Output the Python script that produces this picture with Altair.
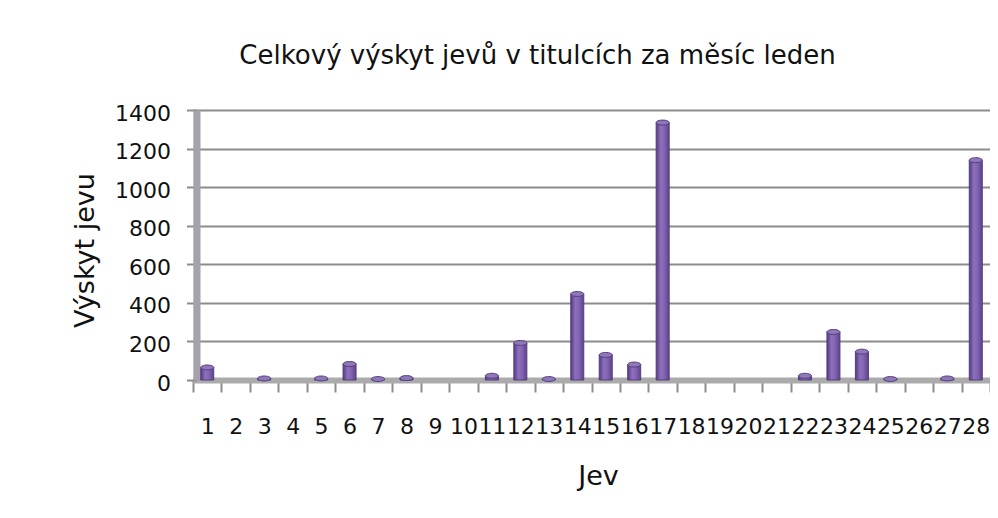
import altair as alt
import pandas as pd

categories = [str(i) for i in range(1, 29)]
values = [65, 0, 8, 0, 8, 83, 5, 10, 0, 0, 22, 192, 5, 446, 130, 80,
          1335, 0, 0, 0, 0, 22, 249, 147, 5, 0, 8, 1140]
y_ticks = [0, 200, 400, 600, 800, 1000, 1200, 1400]

title_text = "Celkový výskyt jevů v titulcích za měsíc leden"
x_title = "Jev"
y_title = "Výskyt jevu"

df = pd.DataFrame({"jev": categories, "vyskyt": values})

FONT = "DejaVu Sans"

x_scale = alt.Scale(domain=categories, paddingInner=0, paddingOuter=0)

x_enc = alt.X(
    "jev:N",
    sort=categories,
    scale=x_scale,
    axis=alt.Axis(
        title=x_title,
        labelAngle=0,
        labelFontSize=22,
        labelFont=FONT,
        labelColor="#111111",
        labelBaseline="middle",
        labelPadding=34,
        labelOverlap=False,
        tickBand="extent",
        tickSize=12,
        tickWidth=2,
        tickColor="#8C8C8C",
        domainWidth=6,
        domainColor="#ABABAB",
        titleFontSize=27,
        titleFont=FONT,
        titleFontWeight="normal",
        titleColor="#111111",
        titleX=405,
        titleY=96,
        titleBaseline="middle",
    ),
)

y_enc = alt.Y(
    "vyskyt:Q",
    scale=alt.Scale(domain=[0, 1400], nice=False),
    axis=alt.Axis(
        title=y_title,
        values=y_ticks,
        tickCount=8,
        format="d",
        labelOverlap=False,
        labelFontSize=22,
        labelFont=FONT,
        labelColor="#111111",
        labelOffset=3,
        labelPadding=16,
        tickSize=10,
        tickWidth=2,
        tickColor="#8C8C8C",
        offset=-3.5,
        domainWidth=7,
        domainColor="#A4A3AB",
        grid=True,
        gridColor="#8C8C8C",
        gridWidth=2,
        titleFontSize=27,
        titleFont=FONT,
        titleFontWeight="normal",
        titleColor="#111111",
        titleAngle=270,
        titleX=-111,
        titleY=140,
        titleBaseline="middle",
    ),
)

bar_grad = alt.Gradient(
    gradient="linear",
    x1=0, x2=1, y1=0, y2=0,
    stops=[
        alt.GradientStop(color="#56397F", offset=0),
        alt.GradientStop(color="#8C70BC", offset=0.35),
        alt.GradientStop(color="#8466B4", offset=0.6),
        alt.GradientStop(color="#5E4389", offset=1),
    ],
)

bars = alt.Chart(df).transform_filter(alt.datum.vyskyt > 0).mark_bar(
    size=13,
    color=bar_grad,
    stroke="#553C7E",
    strokeWidth=1,
).encode(x=x_enc, y=y_enc)

ellipse = "M-1,0 A1,0.38 0 1,0 1,0 A1,0.38 0 1,0 -1,0 Z"
caps = alt.Chart(df).transform_filter(alt.datum.vyskyt > 0).mark_point(
    shape=ellipse,
    size=169,
    filled=True,
    fill="#8E78B8",
    stroke="#553C7E",
    strokeWidth=1,
    opacity=1,
).encode(x=x_enc, y=y_enc)

chart = (
    alt.layer(bars, caps)
    .properties(
        width=797,
        height=270,
        title=alt.TitleParams(
            text=title_text,
            fontSize=26,
            font=FONT,
            fontWeight="normal",
            color="#111111",
            anchor="middle",
            dx=-54,
            offset=33,
        ),
        autosize=alt.AutoSizeParams(type="none"),
        padding={"left": 185, "top": 102, "right": 0, "bottom": 130},
    )
    .configure_view(fill="#EDEBF0", stroke="transparent")
    .configure(font=FONT, background="white")
)

chart.save("out.html", embed_options={"renderer": "svg", "actions": False})
